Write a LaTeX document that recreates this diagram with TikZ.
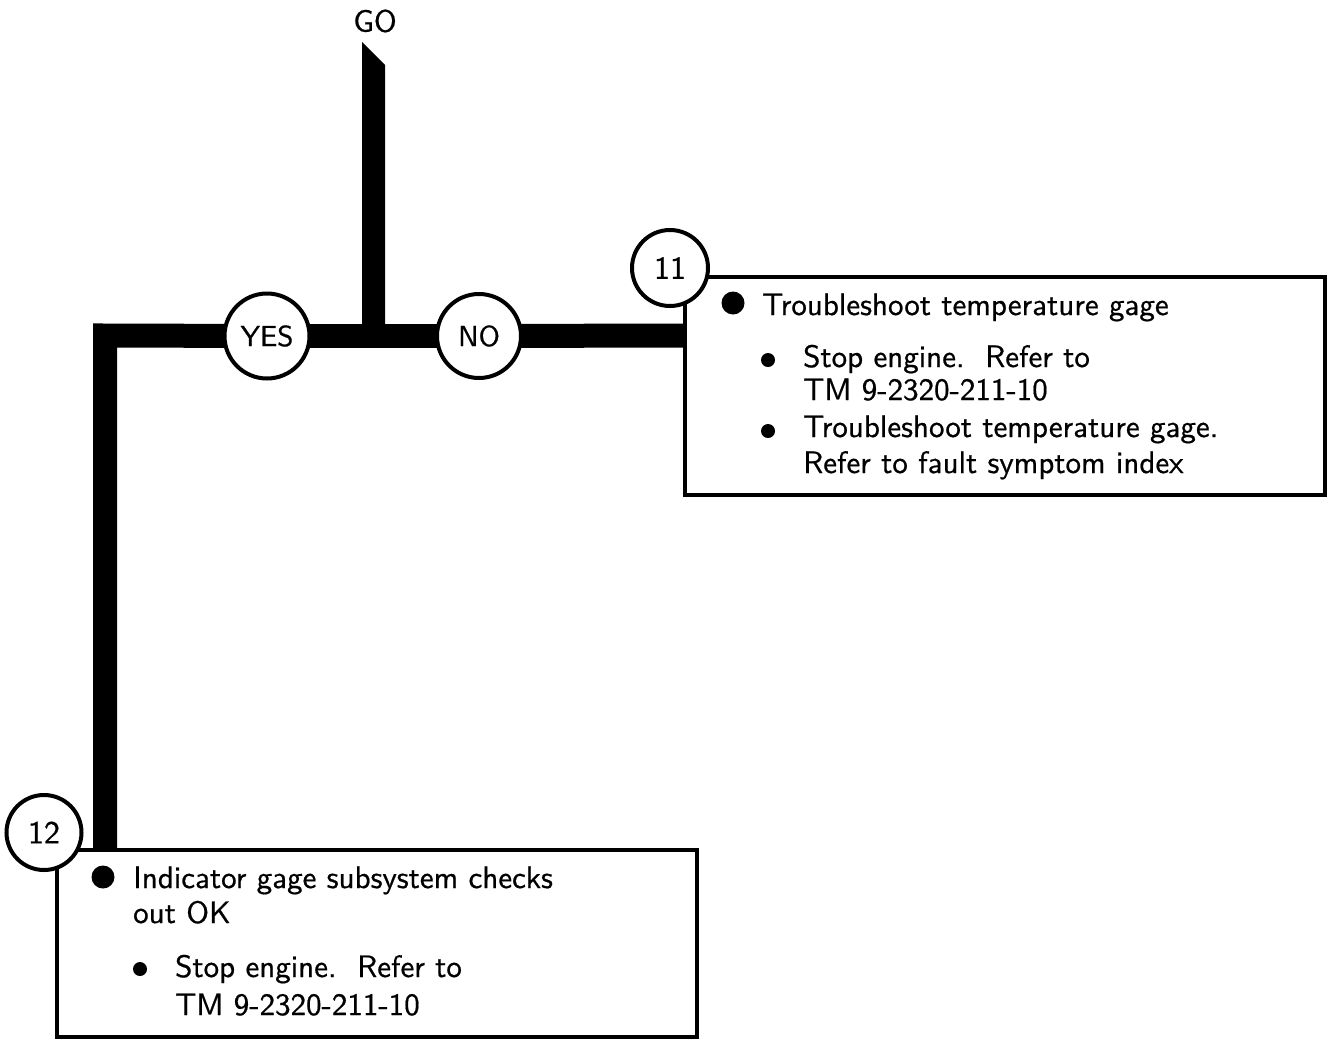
\documentclass[tikz,border=0pt]{standalone}
\usepackage{fontspec}
\setsansfont{lmsans10-regular.otf}[FakeBold=0.6]
\usetikzlibrary{backgrounds}
\begin{document}
\begin{tikzpicture}[x=1pt,y=-1pt,
  every node/.style={font=\sffamily},
  bar/.style={line width=24pt, line join=miter},
  ring/.style={circle, draw, line width=4pt, fill=white, inner sep=0pt},
  panel/.style={draw, line width=3.5pt, inner sep=0pt},
  txt/.style={anchor=base west, inner sep=0pt, font=\sffamily\fontsize{31}{36}\selectfont},
  bigdot/.style={circle, fill, inner sep=0pt, minimum size=23pt},
  smalldot/.style={circle, fill, inner sep=0pt, minimum size=14pt},
  ringtext/.style={font=\sffamily\fontsize{29}{32}\selectfont},
  gotext/.style={font=\sffamily\fontsize{31}{32}\selectfont},
  numtext/.style={font=\sffamily\fontsize{32}{34}\selectfont}]

\useasboundingbox (0,0) rectangle (1327,1039);

% boxes
\node[panel, minimum width=640pt, minimum height=218pt] (box11) at (1005,386) {};
\node[panel, minimum width=640pt, minimum height=187pt] (box12) at (377,943.5) {};

% circles
\node[ring, ringtext, minimum size=85pt] (yes) at (267,336) {YES};
\node[ring, ringtext, minimum size=84pt] (no) at (479,336) {NO};
\node[ring, numtext, minimum size=76pt] (n11) at (670,268) {11};
\node[ring, numtext, minimum size=75pt] (n12) at (44,832.5) {12};

% GO label
\node[gotext] (go) at (375,21) {GO};

% connectors
\coordinate (corner) at (105,335.5);
\coordinate (junction) at (373.5,335.5);
\coordinate (gotop) at (373.5,42);
\begin{pgfonlayer}{background}
  \draw[bar] (corner |- box12.north) -- (corner) -- (yes.center);
  \draw[bar] (yes.center) -- (no.center);
  \draw[bar] (no.center) -- (box11.west |- corner);
  \path (gotop) ++(-11.5,0) coordinate (goL) ++(23,23) coordinate (goR);
  \fill (goL) -- (goR) -- (goR |- junction) -- (goL |- junction) -- cycle;
\end{pgfonlayer}

% box 11 text
\node[bigdot] (b11) at (733,303) {};
\node[txt] (t11a) at (762,315) {Troubleshoot temperature gage};
\node[smalldot] (s11a) at (768,360) {};
\node[txt] (t11b) at (803,367) {Stop engine.\ \ Refer to};
\node[txt] (t11c) at (803,400) {TM 9-2320-211-10};
\node[smalldot] (s11b) at (768,431) {};
\node[txt] (t11d) at (803,437) {Troubleshoot temperature gage.};
\node[txt] (t11e) at (803,473) {Refer to fault symptom index};

% box 12 text
\node[bigdot] (b12) at (103,877) {};
\node[txt] (t12a) at (133,888) {Indicator gage subsystem checks};
\node[txt] (t12b) at (133,923) {out OK};
\node[smalldot] (s12a) at (140,969) {};
\node[txt] (t12c) at (175,977) {Stop engine.\ \ Refer to};
\node[txt] (t12d) at (175,1015) {TM 9-2320-211-10};
\end{tikzpicture}
\end{document}
